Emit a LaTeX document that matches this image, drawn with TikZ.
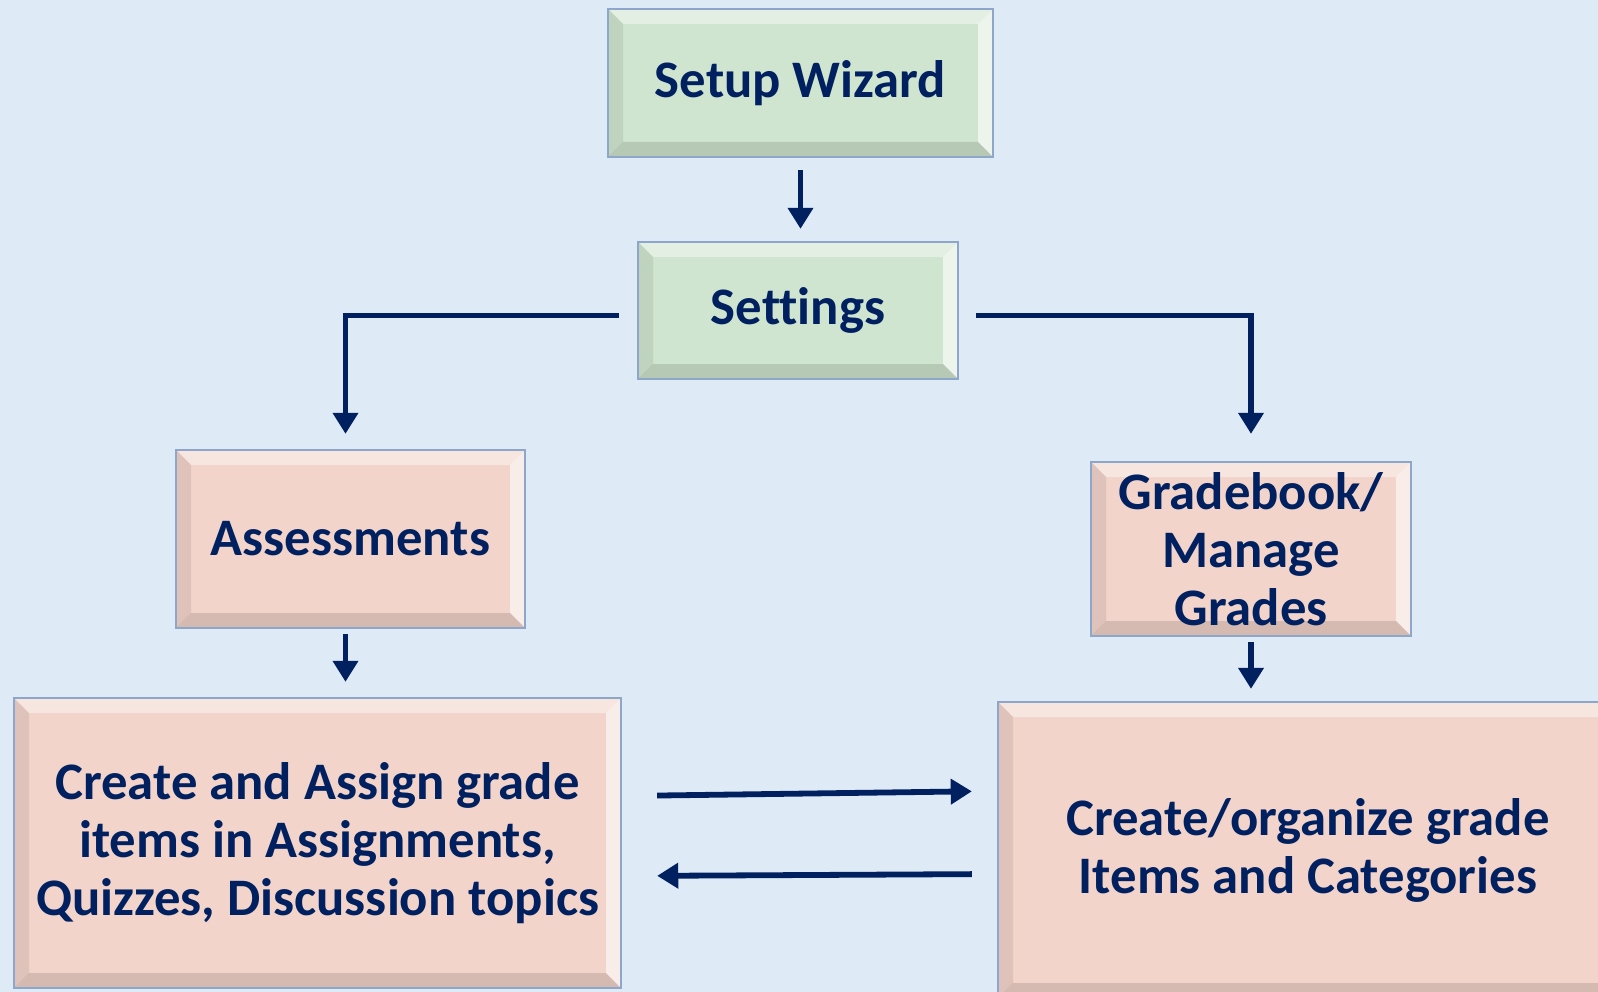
\documentclass[tikz,border=0pt]{standalone}
\usepackage{fontspec}
\setmainfont{Carlito}[Ligatures=NoCommon]
\usetikzlibrary{arrows.meta,positioning,calc}
\definecolor{bgblue}{HTML}{DEEAF6}
\definecolor{navy}{HTML}{002060}
\definecolor{boxedge}{HTML}{8EA6CA}
\definecolor{greenfill}{HTML}{D0E5CF}
\definecolor{pinkfill}{HTML}{F2D4CA}
\tikzset{
  bevel/.style={path picture={
    \fill[white,opacity=.4] (path picture bounding box.north west) -- (path picture bounding box.north east)
      -- ([shift={(-.3,-.3)}]path picture bounding box.north east) -- ([shift={(.3,-.3)}]path picture bounding box.north west) -- cycle;
    \fill[white,opacity=.6] (path picture bounding box.north east) -- (path picture bounding box.south east)
      -- ([shift={(-.3,.3)}]path picture bounding box.south east) -- ([shift={(-.3,-.3)}]path picture bounding box.north east) -- cycle;
    \fill[black,opacity=.08] (path picture bounding box.north west) -- (path picture bounding box.south west)
      -- ([shift={(.3,.3)}]path picture bounding box.south west) -- ([shift={(.3,-.3)}]path picture bounding box.north west) -- cycle;
    \fill[black,opacity=.12] (path picture bounding box.south west) -- (path picture bounding box.south east)
      -- ([shift={(-.3,.3)}]path picture bounding box.south east) -- ([shift={(.3,.3)}]path picture bounding box.south west) -- cycle;
  }},
  stage/.style={draw=boxedge, line width=1.3pt, bevel, align=center, inner sep=0pt,
    text=navy, font=\fontsize{30}{33}\selectfont\bfseries},
  setupbox/.style={stage, fill=greenfill},
  taskbox/.style={stage, fill=pinkfill},
  flow/.style={navy, line width=3.3pt, -{Triangle[width=14pt,length=12pt]}}
}
\begin{document}
\begin{tikzpicture}
\useasboundingbox (0,0) rectangle (31.96,-19.84);
\clip (0,0) rectangle (31.96,-19.84);
\fill[bgblue] (0,0) rectangle (31.96,-19.84);

\node[setupbox, minimum width=7.7cm, minimum height=2.96cm] (wizard) at (16.01,-1.66) {Setup Wizard};
\node[setupbox, minimum width=6.4cm, minimum height=2.74cm] (settings) at (15.96,-6.21) {Settings};
\node[taskbox, minimum width=6.98cm, minimum height=3.56cm] (assess) at (7.01,-10.78) {Assessments};
\node[taskbox, minimum width=6.4cm, minimum height=3.48cm] (gradebook) at (25.02,-10.98) {Gradebook/\\Manage\\Grades};
\node[taskbox, minimum width=12.14cm, minimum height=5.8cm] (create) at (6.35,-16.86)
  {Create and Assign grade\\items in Assignments,\\Quizzes, Discussion topics};
\node[taskbox, minimum width=12.4cm, minimum height=5.92cm] (organize) at (26.16,-17.0)
  {Create/organize grade\\Items and Categories};

\draw[flow, shorten <=0.24cm, shorten >=0.24cm] (wizard.south) -- (wizard.south |- settings.north);
\draw[flow, shorten <=0.36cm, shorten >=0.3cm] ([yshift=-0.1cm]settings.west) -| ([xshift=-0.1cm]assess.north);
\draw[flow, shorten <=0.34cm, shorten >=0.54cm] ([yshift=-0.1cm]settings.east) -| (gradebook.north);
\draw[flow, shorten <=0.1cm, shorten >=0.3cm] ([xshift=-0.1cm]assess.south) -- ([xshift=-0.1cm]assess.south |- create.north);
\draw[flow, shorten <=0.1cm, shorten >=0.24cm] (gradebook.south) -- (gradebook.south |- organize.north);
\draw[flow, shorten <=0.7cm, shorten >=0.5cm] ([yshift=0.94cm]create.east) -- ([yshift=1.18cm]organize.west);
\draw[flow, shorten <=0.5cm, shorten >=0.7cm] ([yshift=-0.48cm]organize.west) -- ([yshift=-0.66cm]create.east);
\end{tikzpicture}
\end{document}
